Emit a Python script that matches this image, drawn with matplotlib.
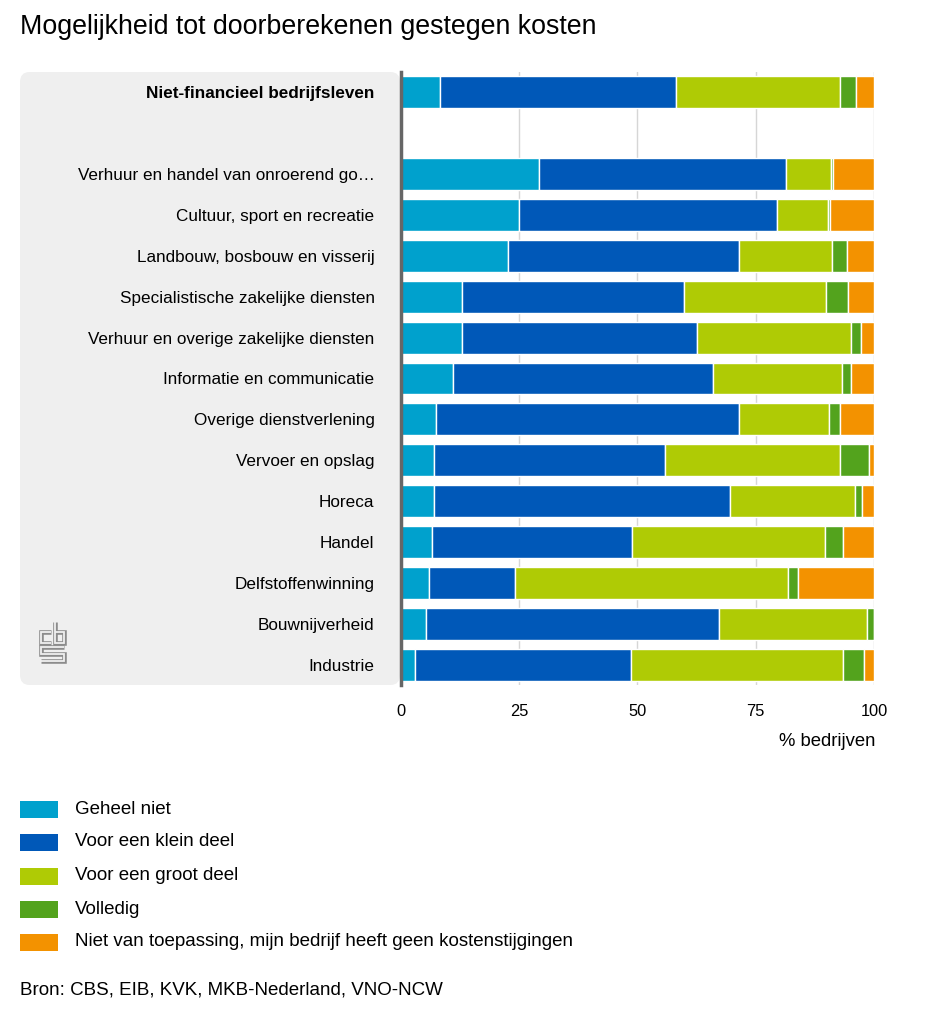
import matplotlib.pyplot as plt
import numpy as np
from matplotlib.patches import FancyBboxPatch, Rectangle

plt.rcParams['font.family'] = ['Liberation Sans', 'DejaVu Sans']

# Data (% bedrijven)
categories = [
    "Niet-financieel bedrijfsleven",
    "Verhuur en handel van onroerend go…",
    "Cultuur, sport en recreatie",
    "Landbouw, bosbouw en visserij",
    "Specialistische zakelijke diensten",
    "Verhuur en overige zakelijke diensten",
    "Informatie en communicatie",
    "Overige dienstverlening",
    "Vervoer en opslag",
    "Horeca",
    "Handel",
    "Delfstoffenwinning",
    "Bouwnijverheid",
    "Industrie",
]
geheel_niet = [8.2, 29.2, 24.9, 22.6, 12.9, 12.9, 10.9, 7.3, 7.0, 7.0, 6.6, 5.9, 5.3, 3.0]
klein_deel = [49.9, 52.3, 54.6, 48.9, 46.9, 49.6, 55.0, 64.2, 48.9, 62.6, 42.3, 18.3, 61.9, 45.6]
groot_deel = [34.8, 9.5, 10.8, 19.7, 30.1, 32.6, 27.3, 19.0, 37.0, 26.3, 40.7, 57.7, 31.3, 44.9]
volledig = [3.3, 0.4, 0.5, 3.1, 4.6, 2.1, 1.9, 2.4, 6.0, 1.6, 3.9, 2.0, 1.5, 4.3]
niet_van_toepassing = [3.8, 8.6, 9.2, 5.7, 5.5, 2.8, 4.9, 7.1, 1.1, 2.5, 6.5, 16.1, 0.0, 2.2]

series_names = ["Geheel niet", "Voor een klein deel", "Voor een groot deel", "Volledig",
                "Niet van toepassing, mijn bedrijf heeft geen kostenstijgingen"]
series = [geheel_niet, klein_deel, groot_deel, volledig, niet_van_toepassing]
colors = ["#00A1CD", "#0058B8", "#AFCB05", "#53A31D", "#F39200"]

# row positions: total row, one empty slot, then sectors
ypos = np.array([0] + list(range(2, 2 + len(categories) - 1)))

fig = plt.figure(figsize=(9.45, 10.24), dpi=100)
W, H = 945, 1024

# grey label panel (behind the axes so tick labels stay visible)
panel = FancyBboxPatch((20 / W, 1 - 685 / H), 400 / W - 20 / W, (685 - 72) / H,
                       boxstyle="round,pad=0,rounding_size=0.01", transform=fig.transFigure,
                       facecolor="#efefef", edgecolor="none", zorder=-1)
fig.patches.append(panel)

ax = fig.add_axes([401 / W, 1 - 685 / H, (874 - 401) / W, (685 - 72) / H])
ax.set_facecolor("white")

left = np.zeros(len(categories))
for vals, c in zip(series, colors):
    vals = np.array(vals)
    ax.barh(ypos, vals, left=left, height=0.78, color=c, edgecolor="white", linewidth=1, zorder=3)
    left += vals

ax.set_xlim(0, 100)
ax.set_ylim(14.5, -0.5)
ax.set_xticks([0, 25, 50, 75, 100])
ax.set_xticklabels(["0", "25", "50", "75", "100"])
ax.set_yticks(ypos)
ax.set_yticklabels(categories)
ax.get_yticklabels()[0].set_fontweight("bold")
ax.tick_params(axis="y", length=0, pad=19, labelsize=12.3, colors="#000000")
ax.tick_params(axis="x", length=0, pad=14, labelsize=11.8)
ax.grid(axis="x", color="#d6d6d6", linewidth=1, zorder=0)
for s in ["top", "right", "bottom"]:
    ax.spines[s].set_visible(False)
ax.spines["left"].set_color("#666666")
ax.spines["left"].set_linewidth(2.5)
ax.spines["left"].set_zorder(5)

fig.text(875 / W, 1 - 742 / H, "% bedrijven", ha="right", va="center", fontsize=13.3)

# title
fig.text(20 / W, 1 - 27 / H, "Mogelijkheid tot doorberekenen gestegen kosten",
         ha="left", va="center", fontsize=19.3)

# legend
leg_y = [809, 842, 876, 909, 942]
for name, c, y in zip(series_names, colors, leg_y):
    fig.patches.append(Rectangle((20 / W, 1 - (y + 8.5) / H), 38 / W, 17 / H,
                                 transform=fig.transFigure, facecolor=c, edgecolor="none"))
    fig.text(75 / W, 1 - y / H, name, ha="left", va="center", fontsize=13.5)

fig.text(20 / W, 1 - 990 / H, "Bron: CBS, EIB, KVK, MKB-Nederland, VNO-NCW",
         ha="left", va="center", fontsize=13.5)

# simplified CBS logo: thick grey strokes hollowed out by a thinner panel-coloured stroke
logo = fig.add_axes([37 / W, 1 - 665 / H, 31 / W, 45 / H])
logo.set_xlim(-2, 29)
logo.set_ylim(-2, 43)
logo.axis("off")
strokes = [
    ([12, 2, 2, 12], [31, 31, 20, 20]),            # c
    ([16, 16, 25, 25, 16], [41, 20, 20, 31, 31]),  # b
    ([25, 2, 2, 25, 25, 2], [16, 16, 9.5, 9.5, 2, 2]),  # s
]
for xs, ys in strokes:
    logo.plot(xs, ys, color="#8c8c8c", linewidth=3.3, solid_capstyle="butt", solid_joinstyle="miter")
for xs, ys in strokes:
    logo.plot(xs, ys, color="#efefef", linewidth=1.3, solid_capstyle="butt", solid_joinstyle="miter")

fig.savefig("out.png", dpi=100)
